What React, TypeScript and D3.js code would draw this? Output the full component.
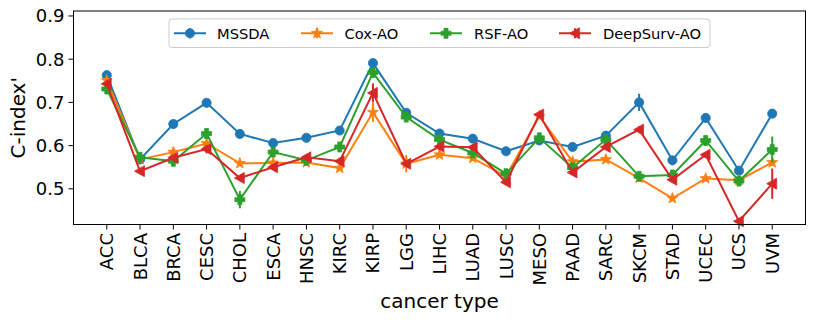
import React from "react";
import * as d3 from "d3";

const categories = ["ACC","BLCA","BRCA","CESC","CHOL","ESCA","HNSC","KIRC","KIRP","LGG","LIHC","LUAD","LUSC","MESO","PAAD","SARC","SKCM","STAD","UCEC","UCS","UVM"];

const mssda = [0.763, 0.568, 0.650, 0.699, 0.627, 0.606, 0.618, 0.635, 0.791, 0.676, 0.628, 0.616, 0.587, 0.612, 0.597, 0.623, 0.700, 0.566, 0.664, 0.542, 0.674];
const mssdaErr = [0.004, 0.005, 0.01, 0.005, 0.01, 0.005, 0.004, 0.005, 0.005, 0.006, 0.005, 0.004, 0.004, 0.005, 0.004, 0.004, 0.02, 0.006, 0.006, 0.008, 0.01];

const cox = [0.751, 0.568, 0.585, 0.605, 0.559, 0.560, 0.561, 0.548, 0.677, 0.558, 0.579, 0.571, 0.529, 0.668, 0.563, 0.568, 0.525, 0.478, 0.524, 0.520, 0.561];
const coxErr = [0.006, 0.005, 0.006, 0.006, 0.004, 0.004, 0.004, 0.005, 0.022, 0.02, 0.006, 0.005, 0.005, 0.005, 0.008, 0.005, 0.005, 0.005, 0.005, 0.004, 0.008];

const rsf = [0.731, 0.573, 0.564, 0.628, 0.475, 0.585, 0.566, 0.597, 0.769, 0.666, 0.614, 0.583, 0.535, 0.618, 0.549, 0.614, 0.529, 0.532, 0.612, 0.518, 0.591];
const rsfErr = [0.006, 0.006, 0.012, 0.012, 0.02, 0.006, 0.005, 0.006, 0.008, 0.006, 0.005, 0.006, 0.006, 0.008, 0.005, 0.006, 0.01, 0.005, 0.008, 0.006, 0.03];

const deepsurv = [0.743, 0.541, 0.572, 0.592, 0.525, 0.550, 0.573, 0.564, 0.722, 0.558, 0.598, 0.596, 0.515, 0.672, 0.538, 0.597, 0.637, 0.521, 0.579, 0.425, 0.512];
const deepsurvErr = [0.008, 0.005, 0.006, 0.01, 0.005, 0.006, 0.006, 0.008, 0.022, 0.006, 0.008, 0.005, 0.006, 0.005, 0.005, 0.006, 0.008, 0.006, 0.006, 0.005, 0.035];

const yTicks = [0.5, 0.6, 0.7, 0.8, 0.9];

type MarkerKind = "circle" | "star" | "plus" | "triangle";
const seriesList: { name: string; values: number[]; err: number[]; color: string; marker: MarkerKind }[] = [
  { name: "MSSDA", values: mssda, err: mssdaErr, color: "#1f77b4", marker: "circle" },
  { name: "Cox-AO", values: cox, err: coxErr, color: "#ff7f0e", marker: "star" },
  { name: "RSF-AO", values: rsf, err: rsfErr, color: "#2ca02c", marker: "plus" },
  { name: "DeepSurv-AO", values: deepsurv, err: deepsurvErr, color: "#d62728", marker: "triangle" },
];

const FONT = "'DejaVu Sans', sans-serif";

function markerPath(kind: MarkerKind, cx: number, cy: number): string {
  if (kind === "star") {
    const ro = 5.8, ri = 2.4;
    const pts: string[] = [];
    for (let i = 0; i < 10; i++) {
      const r = i % 2 === 0 ? ro : ri;
      const a = -Math.PI / 2 + (i * Math.PI) / 5;
      pts.push(`${cx + r * Math.cos(a)},${cy + r * Math.sin(a)}`);
    }
    return "M" + pts.join("L") + "Z";
  }
  if (kind === "plus") {
    const s = 5, w = 2;
    return `M${cx - w},${cy - s}L${cx + w},${cy - s}L${cx + w},${cy - w}L${cx + s},${cy - w}L${cx + s},${cy + w}L${cx + w},${cy + w}L${cx + w},${cy + s}L${cx - w},${cy + s}L${cx - w},${cy + w}L${cx - s},${cy + w}L${cx - s},${cy - w}L${cx - w},${cy - w}Z`;
  }
  if (kind === "triangle") {
    const s = 5.5;
    return `M${cx - s},${cy}L${cx + s * 0.8},${cy - s}L${cx + s * 0.8},${cy + s}Z`;
  }
  const r = 4.6;
  return `M${cx - r},${cy}A${r},${r} 0 1,0 ${cx + r},${cy}A${r},${r} 0 1,0 ${cx - r},${cy}Z`;
}

export default function App() {
  const W = 814, H = 323;
  const left = 73.5, right = 805.5, top = 11, bottom = 224.5;
  const x = d3.scaleLinear().domain([-1, categories.length]).range([left, right]);
  const y = d3.scaleLinear().domain([0.4175, 0.9115]).range([bottom, top]);
  const line = d3.line<number>().x((_, i) => x(i)).y((v) => y(v));

  const legendX = 169, legendY = 19, legendW = 541, legendH = 28.5;
  const legendItems = [
    { lx: 174, tx: 217 },
    { lx: 301, tx: 344.5 },
    { lx: 430, tx: 474 },
    { lx: 559, tx: 603 },
  ];

  return (
    <svg width={W} height={H} style={{ position: "absolute", left: 0, top: 0, background: "#fff" }} fontFamily={FONT}>
      <rect x={0} y={0} width={W} height={H} fill="#fff" />
      {seriesList.map((s) => (
        <g key={s.name}>
          <path d={line(s.values) || ""} fill="none" stroke={s.color} strokeWidth={2} />
          {s.values.map((v, i) => (
            <line key={"e" + i} x1={x(i)} x2={x(i)} y1={y(v - s.err[i])} y2={y(v + s.err[i])} stroke={s.color} strokeWidth={2} />
          ))}
          {s.values.map((v, i) => (
            <path key={"m" + i} d={markerPath(s.marker, x(i), y(v))} fill={s.color} stroke={s.color} strokeWidth={0.8} />
          ))}
        </g>
      ))}
      <rect x={left} y={top} width={right - left} height={bottom - top} fill="none" stroke="#000" strokeWidth={1} />
      {yTicks.map((t) => (
        <g key={t}>
          <line x1={left - 5} x2={left} y1={y(t)} y2={y(t)} stroke="#000" strokeWidth={1} />
          <text x={left - 9} y={y(t)} dy="0.36em" textAnchor="end" fontSize={18} fill="#000">{t.toFixed(1)}</text>
        </g>
      ))}
      {categories.map((c, i) => (
        <g key={c}>
          <line x1={x(i)} x2={x(i)} y1={bottom} y2={bottom + 5} stroke="#000" strokeWidth={1} />
          <text transform={`translate(${x(i)},${bottom + 8.5}) rotate(-90)`} dy="0.36em" textAnchor="end" fontSize={18} fill="#000">{c}</text>
        </g>
      ))}
      <text transform={`translate(25,${(top + bottom) / 2}) rotate(-90)`} textAnchor="middle" fontSize={20} fill="#000">C-index'</text>
      <text x={(left + right) / 2} y={308} textAnchor="middle" fontSize={20} fill="#000">cancer type</text>
      <rect x={legendX} y={legendY} width={legendW} height={legendH} rx={3} fill="#fff" fillOpacity={0.8} stroke="#cccccc" strokeWidth={1} />
      {seriesList.map((s, k) => {
        const it = legendItems[k];
        const cy = legendY + legendH / 2;
        return (
          <g key={"lg" + s.name}>
            <line x1={it.lx} x2={it.lx + 32} y1={cy} y2={cy} stroke={s.color} strokeWidth={2} />
            <line x1={it.lx + 16} x2={it.lx + 16} y1={cy - 5} y2={cy + 5} stroke={s.color} strokeWidth={2} />
            <path d={markerPath(s.marker, it.lx + 16, cy)} fill={s.color} stroke={s.color} strokeWidth={0.8} />
            <text x={it.tx} y={cy} dy="0.36em" fontSize={14.7} fill="#000">{s.name}</text>
          </g>
        );
      })}
    </svg>
  );
}
